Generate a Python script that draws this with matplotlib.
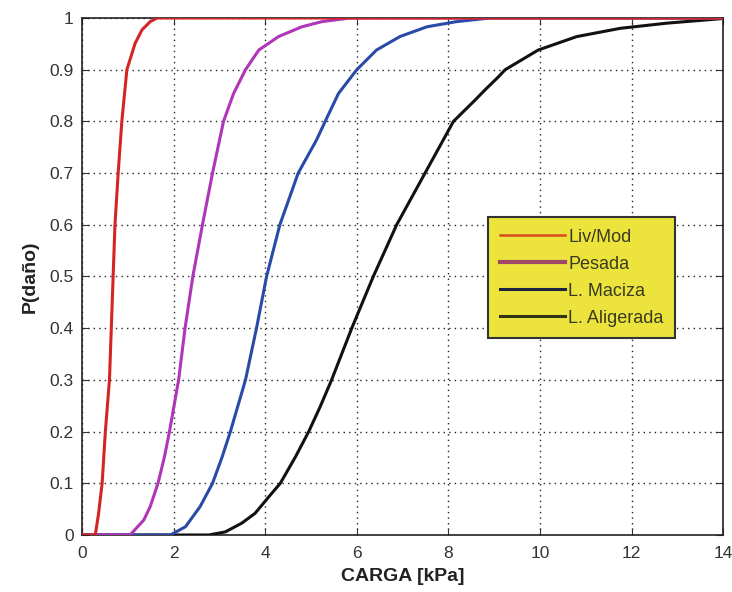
import matplotlib
matplotlib.use("Agg")
import matplotlib.pyplot as plt
from matplotlib.lines import Line2D

plt.rcParams['font.family'] = ['Liberation Sans', 'DejaVu Sans']

# Data
liv_x = [0, 0.29, 0.36, 0.44, 0.51, 0.60, 0.64, 0.68, 0.72, 0.79, 0.87, 0.98, 1.16, 1.31, 1.49, 1.64, 14]
liv_y = [0, 0, 0.04, 0.1, 0.2, 0.3, 0.4, 0.5, 0.6, 0.7, 0.8, 0.9, 0.951, 0.977, 0.993, 1.0, 1.0]

pes_x = [0, 1.05, 1.35, 1.49, 1.66, 1.80, 1.91, 2.11, 2.25, 2.42, 2.63, 2.85, 3.09, 3.31, 3.57,
         3.86, 4.29, 4.80, 5.24, 5.85, 14]
pes_y = [0, 0, 0.029, 0.055, 0.1, 0.151, 0.2, 0.3, 0.4, 0.5, 0.6, 0.7, 0.8, 0.854, 0.9,
         0.938, 0.964, 0.983, 0.993, 1.0, 1.0]

mac_x = [0, 1.93, 2.26, 2.58, 2.85, 3.06, 3.24, 3.57, 3.81, 4.03, 4.32, 4.72, 5.12, 5.31, 5.60,
         6.00, 6.43, 6.94, 7.53, 8.18, 8.91, 14]
mac_y = [0, 0, 0.016, 0.055, 0.1, 0.151, 0.2, 0.3, 0.4, 0.5, 0.6, 0.7, 0.764, 0.8, 0.854,
         0.9, 0.938, 0.964, 0.983, 0.993, 1.0, 1.0]

ali_x = [0, 2.77, 3.13, 3.49, 3.78, 4.08, 4.33, 4.66, 4.95, 5.20, 5.45, 5.89, 6.36, 6.87, 7.49,
         8.11, 8.58, 8.80, 9.09, 9.24, 9.96, 10.80, 11.75, 12.77, 14]
ali_y = [0, 0, 0.006, 0.023, 0.042, 0.074, 0.1, 0.151, 0.2, 0.248, 0.3, 0.4, 0.5, 0.6, 0.7,
         0.8, 0.841, 0.861, 0.886, 0.9, 0.938, 0.964, 0.98, 0.99, 0.999]

labels = ["Liv/Mod", "Pesada", "L. Maciza", "L. Aligerada"]
x_ticks = [0, 2, 4, 6, 8, 10, 12, 14]
y_ticks = [0, 0.1, 0.2, 0.3, 0.4, 0.5, 0.6, 0.7, 0.8, 0.9, 1]
y_ticklabels = ["0", "0.1", "0.2", "0.3", "0.4", "0.5", "0.6", "0.7", "0.8", "0.9", "1"]

fig = plt.figure(figsize=(7.32, 5.92), dpi=100)
ax = fig.add_axes([0.112, 0.0963, 0.876, 0.8733])

ax.plot(ali_x, ali_y, color="#111111", lw=2.2, zorder=3, solid_joinstyle="round")
ax.plot(mac_x, mac_y, color="#2a4aa8", lw=2.2, zorder=3, solid_joinstyle="round")
ax.plot(pes_x, pes_y, color="#b035b8", lw=2.2, zorder=3, solid_joinstyle="round")
ax.plot(liv_x, liv_y, color="#d42525", lw=2.2, zorder=3, solid_joinstyle="round")

ax.set_xlim(0, 14)
ax.set_ylim(0, 1)
ax.set_xticks(x_ticks)
ax.set_yticks(y_ticks)
ax.set_yticklabels(y_ticklabels)
ax.tick_params(direction="in", length=5, labelsize=12.5, colors="#333333", right=True, top=True)
ax.tick_params(axis="x", pad=8)
ax.tick_params(axis="y", pad=6)
ax.grid(True, linestyle=(0, (1, 3)), color="#222222", linewidth=1)
for s in ax.spines.values():
    s.set_linewidth(1.2)
    s.set_color("#222222")

ax.set_xlabel("CARGA [kPa]", fontsize=14, fontweight="bold", labelpad=5, color="#222222")
ax.set_ylabel("P(daño)", fontsize=14, fontweight="bold", labelpad=8, color="#222222")

handles = [
    Line2D([0], [0], color="#d84a20", lw=1.8),
    Line2D([0], [0], color="#a04868", lw=3),
    Line2D([0], [0], color="#1c2240", lw=2.2),
    Line2D([0], [0], color="#333318", lw=2.2),
]
leg = ax.legend(handles, labels, loc="upper left", bbox_to_anchor=(0.633, 0.615),
                borderaxespad=0, fontsize=13, frameon=True, fancybox=False,
                handlelength=3.6, handletextpad=0.2, labelspacing=0.55, borderpad=0.65)
leg.get_frame().set_facecolor("#ece43c")
leg.get_frame().set_edgecolor("#333333")
leg.get_frame().set_linewidth(1.5)
leg.get_frame().set_alpha(1)
for t in leg.get_texts():
    t.set_color("#3a3a20")

fig.savefig("out.png", dpi=100)
